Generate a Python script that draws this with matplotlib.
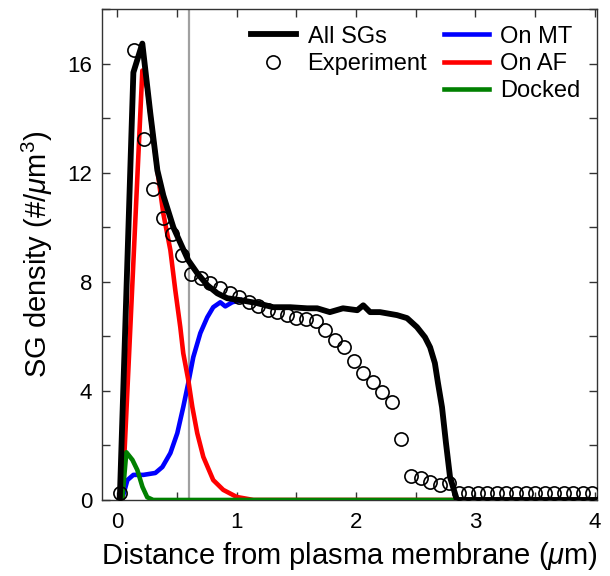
import numpy as np
import matplotlib
matplotlib.use("Agg")
import matplotlib.pyplot as plt
from matplotlib.lines import Line2D
from matplotlib.ticker import MultipleLocator

plt.rcParams['font.family'] = ['Liberation Sans', 'DejaVu Sans']
plt.rcParams['mathtext.fontset'] = 'custom'
plt.rcParams['mathtext.rm'] = 'Liberation Sans'
plt.rcParams['mathtext.it'] = 'Liberation Sans:italic'

# experiment (circles)
exp_x = [0.02, 0.14, 0.22, 0.30, 0.38, 0.46, 0.54, 0.62, 0.70, 0.78, 0.86,
         0.94, 1.02, 1.10, 1.18, 1.26, 1.34, 1.42, 1.50, 1.58, 1.66, 1.74,
         1.82, 1.90, 1.98, 2.06, 2.14, 2.22, 2.30, 2.38, 2.46, 2.54, 2.62,
         2.70, 2.78, 2.86, 2.94, 3.02, 3.10, 3.18, 3.26, 3.34, 3.42, 3.50,
         3.58, 3.66, 3.74, 3.82, 3.90, 3.98]
exp_y = [0.27, 16.5, 13.25, 11.4, 10.35, 9.75, 9.0, 8.3, 8.15, 7.95, 7.77,
         7.6, 7.44, 7.27, 7.1, 6.98, 6.89, 6.78, 6.68, 6.65, 6.58, 6.25,
         5.88, 5.6, 5.08, 4.67, 4.33, 3.96, 3.6, 2.25, 0.88, 0.8, 0.66,
         0.55, 0.62, 0.27, 0.27, 0.27, 0.27, 0.27, 0.27, 0.27, 0.27, 0.27,
         0.27, 0.27, 0.27, 0.27, 0.27, 0.27]

# all SGs (simulation total)
all_x = [0.02, 0.134, 0.209, 0.276, 0.335, 0.385, 0.469, 0.544, 0.594, 0.669,
         0.753, 0.837, 0.92, 1.03, 1.17, 1.305, 1.448, 1.59, 1.674, 1.78,
         1.89, 2.01, 2.06, 2.117, 2.2, 2.343, 2.427, 2.51, 2.577, 2.62,
         2.66, 2.686, 2.72, 2.753, 2.787, 2.845, 4.0]
all_y = [0.0, 15.68, 16.74, 14.18, 12.09, 11.17, 10.0, 9.27, 8.79, 8.32,
         7.88, 7.58, 7.4, 7.33, 7.22, 7.07, 7.07, 7.03, 7.03, 6.89,
         7.03, 6.96, 7.14, 6.89, 6.89, 6.78, 6.67, 6.34, 5.97, 5.6,
         5.02, 4.29, 3.4, 2.09, 0.84, 0.0, 0.0]

# on microtubules
mt_x = [0.042, 0.084, 0.134, 0.218, 0.318, 0.377, 0.444, 0.502, 0.552, 0.594,
        0.636, 0.695, 0.753, 0.803, 0.862, 0.904, 0.962, 1.03]
mt_y = [0.07, 0.73, 0.92, 0.92, 0.99, 1.21, 1.72, 2.45, 3.41, 4.29,
        5.24, 6.12, 6.7, 7.07, 7.25, 7.1, 7.25, 7.33]

# on actin filaments
af_x = [0.042, 0.209, 0.25, 0.293, 0.335, 0.385, 0.444, 0.485, 0.527, 0.552,
        0.594, 0.628, 0.669, 0.72, 0.803, 0.887, 1.0, 1.14, 4.0]
af_y = [0.1, 15.75, 15.1, 13.55, 12.09, 10.5, 9.16, 7.7, 6.34, 5.38,
        4.4, 3.41, 2.45, 1.58, 0.73, 0.37, 0.11, 0.0, 0.0]

# docked
dk_x = [0.042, 0.075, 0.126, 0.167, 0.21, 0.25, 0.3, 4.0]
dk_y = [0.07, 1.75, 1.47, 1.1, 0.48, 0.1, 0.0, 0.0]

fig = plt.figure(figsize=(6.1, 5.76), dpi=100)
ax = fig.add_axes([0.167, 0.132, 0.812, 0.852])

ax.axvline(0.6, color='#a0a0a0', lw=1.6, zorder=1)
ax.plot(mt_x, mt_y, color='#0000ff', lw=3.3, zorder=2)
ax.plot(af_x, af_y, color='#ff0000', lw=3.3, zorder=3)
ax.plot(dk_x, dk_y, color='#008000', lw=3.3, zorder=4)
ax.plot(all_x, all_y, color='black', lw=4.2, zorder=5)
ax.plot(exp_x, exp_y, 'o', mfc='none', mec='black', ms=9.5, mew=1.2, zorder=6)

ax.set_xlim(-0.13, 4.02)
ax.set_ylim(0, 18)
ax.xaxis.set_major_locator(MultipleLocator(1))
ax.xaxis.set_minor_locator(MultipleLocator(0.5))
ax.yaxis.set_major_locator(MultipleLocator(4))
ax.yaxis.set_minor_locator(MultipleLocator(2))
ax.tick_params(which='both', direction='in', top=True, right=True,
               length=6, width=1.0, labelsize=16, color='#333333')
ax.tick_params(axis='x', pad=9)
ax.tick_params(axis='y', pad=7)
for s in ax.spines.values():
    s.set_linewidth(1.0)
    s.set_color('#333333')

ax.set_xlabel(r'Distance from plasma membrane ($\mu$m)', fontsize=21, labelpad=5)
ax.set_ylabel(r'SG density (#/$\mu$m$^3$)', fontsize=21, labelpad=9)

handles = [
    Line2D([], [], color='black', lw=4.2),
    Line2D([], [], ls='none', marker='o', mfc='none', mec='black', ms=9.5, mew=1.2),
    Line2D([], [], ls='none'),
    Line2D([], [], color='#0000ff', lw=3.3),
    Line2D([], [], color='#ff0000', lw=3.3),
    Line2D([], [], color='#008000', lw=3.3),
]
labels = ['All SGs', 'Experiment', '', 'On MT', 'On AF', 'Docked']
ax.legend(handles, labels, ncol=2, loc='upper right', frameon=False,
          fontsize=17, handlelength=1.9, handletextpad=0.5,
          columnspacing=0.7, labelspacing=0.22, borderaxespad=0.3)

fig.savefig('out.png', dpi=100)
